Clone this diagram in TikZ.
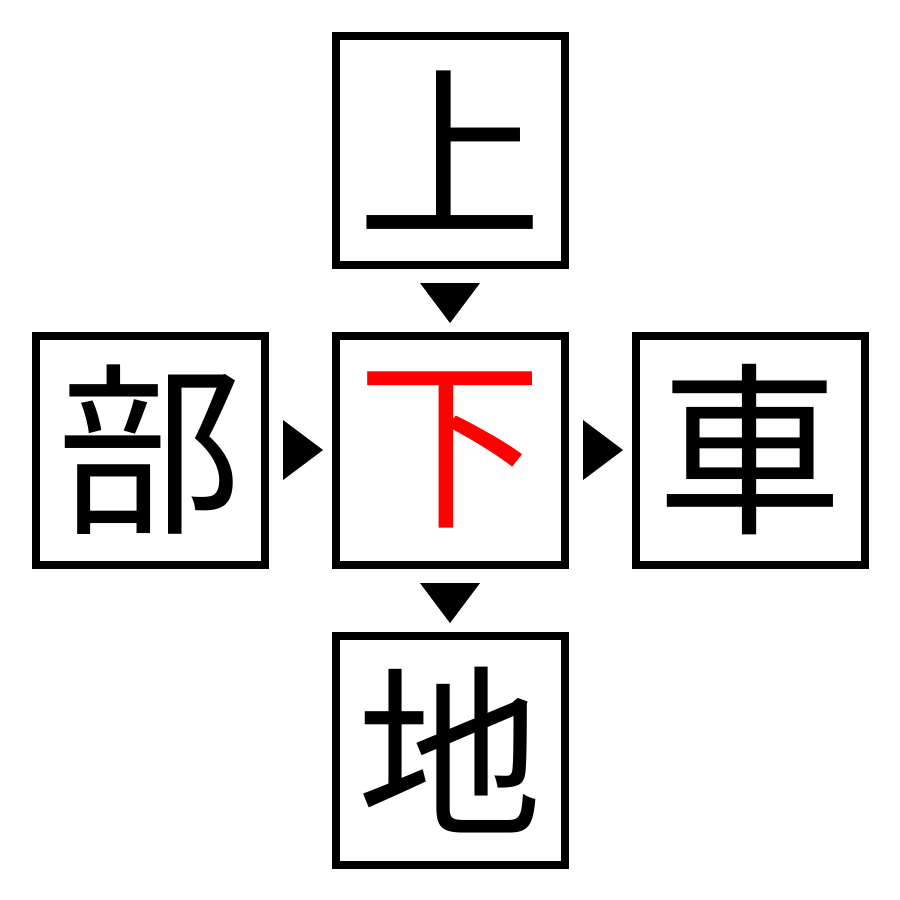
\documentclass[tikz,border=0pt]{standalone}
\usepackage{fontspec}
\newfontfamily\cjk{Noto Sans CJK JP}
\usetikzlibrary{calc}
\begin{document}
\begin{tikzpicture}[x=1pt,y=-1pt,
  box/.style={draw,line width=8pt,minimum size=229pt,inner sep=0pt,font=\cjk\fontsize{185}{185}\selectfont},
  tri/.style={fill=black}]
\useasboundingbox (0,0) rectangle (900,900);
\node[box] (top) at (450,150) {上};
\node[box] (left) at (150,450) {部};
\node[box,text=red] (mid) at (450,450) {下};
\node[box] (right) at (750,450) {車};
\node[box] (bot) at (450,750) {地};
\coordinate (a) at ($(top.south)!0.5!(mid.north)$);
\fill[tri] ($(a)+(-30,-17)$) -- ($(a)+(30,-17)$) -- ($(a)+(0,23)$) -- cycle;
\coordinate (b) at ($(mid.south)!0.5!(bot.north)$);
\fill[tri] ($(b)+(-30,-17)$) -- ($(b)+(30,-17)$) -- ($(b)+(0,23)$) -- cycle;
\coordinate (c) at ($(left.east)!0.5!(mid.west)$);
\fill[tri] ($(c)+(-17,-30)$) -- ($(c)+(-17,30)$) -- ($(c)+(23,0)$) -- cycle;
\coordinate (d) at ($(mid.east)!0.5!(right.west)$);
\fill[tri] ($(d)+(-17,-30)$) -- ($(d)+(-17,30)$) -- ($(d)+(23,0)$) -- cycle;
\end{tikzpicture}
\end{document}
